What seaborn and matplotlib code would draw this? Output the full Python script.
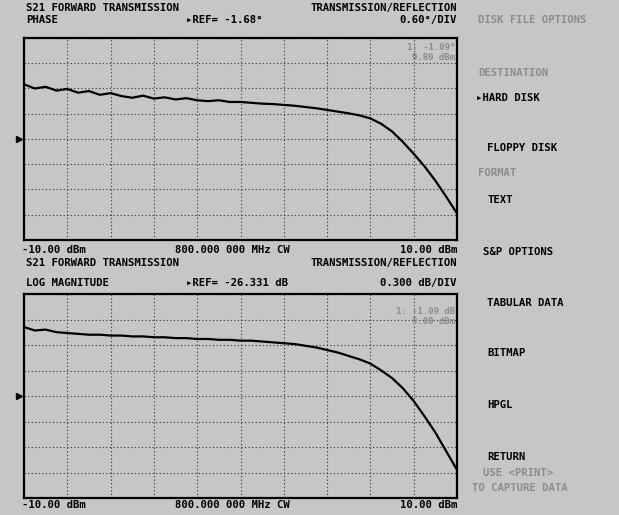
import matplotlib
matplotlib.use("Agg")
import matplotlib.pyplot as plt
import seaborn as sns
import pandas as pd

# 01- Trace data (power sweep at 800 MHz CW)
power_dbm = [-10.0, -9.5, -9.0, -8.5, -8.0, -7.5, -7.0, -6.5, -6.0, -5.5,
             -5.0, -4.5, -4.0, -3.5, -3.0, -2.5, -2.0, -1.5, -1.0, -0.5,
             0.0, 0.5, 1.0, 1.5, 2.0, 2.5, 3.0, 3.5, 4.0, 4.5,
             5.0, 5.5, 6.0, 6.5, 7.0, 7.5, 8.0, 8.5, 9.0, 9.5, 10.0]
phase_deg = [-0.38, -0.48, -0.44, -0.53, -0.49, -0.58, -0.54, -0.63, -0.59, -0.66,
             -0.70, -0.65, -0.72, -0.69, -0.74, -0.71, -0.76, -0.78, -0.76, -0.80,
             -0.80, -0.82, -0.84, -0.85, -0.87, -0.89, -0.92, -0.95, -0.99, -1.03,
             -1.07, -1.12, -1.19, -1.32, -1.50, -1.75, -2.03, -2.33, -2.67, -3.05, -3.45]
logmag_db = [-25.52, -25.56, -25.55, -25.58, -25.59, -25.60, -25.61, -25.61, -25.62, -25.62,
             -25.63, -25.63, -25.64, -25.64, -25.65, -25.65, -25.66, -25.66, -25.67, -25.67,
             -25.68, -25.68, -25.69, -25.70, -25.71, -25.72, -25.74, -25.76, -25.79, -25.82,
             -25.86, -25.90, -25.95, -26.03, -26.12, -26.24, -26.39, -26.57, -26.76, -26.98, -27.20]

phase_ref, phase_div = -1.68, 0.60
mag_ref, mag_div = -26.331, 0.300

headers_top = ["S21 FORWARD TRANSMISSION", "PHASE", "\u25b8REF= -1.68\u00b0",
               "TRANSMISSION/REFLECTION", "0.60\u00b0/DIV"]
headers_bot = ["S21 FORWARD TRANSMISSION", "LOG MAGNITUDE", "\u25b8REF= -26.331 dB",
               "TRANSMISSION/REFLECTION", "0.300 dB/DIV"]
footer = ["-10.00 dBm", "800.000 000 MHz CW", "10.00 dBm"]
readout_top = ["1: -1.09\u00b0", "9.80 dBm"]
readout_bot = ["1: -1.09 dB", "9.80 dBm"]
softkeys = ["DISK FILE OPTIONS", "DESTINATION", "\u25b8HARD DISK", "FLOPPY DISK",
            "FORMAT", "TEXT", "S&P OPTIONS", "TABULAR DATA", "BITMAP", "HPGL",
            "RETURN", "USE <PRINT>", "TO CAPTURE DATA"]

df = pd.DataFrame({"power": power_dbm, "phase": phase_deg, "mag": logmag_db})

# 02- Style
sns.set_theme(style="white")
bg = "#c6c6c6"
plt.rcParams["font.family"] = ["DejaVu Sans Mono", "DejaVu Sans"]
plt.rcParams["font.weight"] = "bold"

W, H = 619, 515
fig = plt.figure(figsize=(W / 100, H / 100), dpi=100, facecolor=bg)


def px_axes(x0, y0, x1, y1):
    return fig.add_axes([x0 / W, 1 - y1 / H, (x1 - x0) / W, (y1 - y0) / H])


def txt(x, y, s, ha="left", faint=False, size=7.7):
    fig.text(x / W, 1 - y / H, s, ha=ha, va="center", fontsize=size,
             fontweight="bold", color="#8c8c8c" if faint else "black")


def screen(ax, col, ref, div):
    sns.lineplot(data=df, x="power", y=col, ax=ax, color="black", lw=1.6)
    ax.set_facecolor(bg)
    ax.set_xlim(-10, 10)
    ax.set_ylim(ref - 4 * div, ref + 4 * div)
    ax.set_xticks([-10 + 2 * i for i in range(11)])
    ax.set_yticks([ref + div * k for k in range(-4, 5)])
    ax.grid(True, color="#303030", linestyle=(0, (1, 2.2)), lw=0.8)
    ax.tick_params(length=0, labelbottom=False, labelleft=False)
    ax.set_xlabel("")
    ax.set_ylabel("")
    for s in ax.spines.values():
        s.set_color("black")
        s.set_linewidth(1.6)
    # reference position marker
    ax.plot([-0.012], [0.5], transform=ax.transAxes, marker=">", ms=5,
            color="black", clip_on=False)


ax1 = px_axes(24, 38, 457, 240)
screen(ax1, "phase", phase_ref, phase_div)
ax2 = px_axes(24, 294, 457, 498)
screen(ax2, "mag", mag_ref, mag_div)

# 03- Screen annotations
for (y_a, y_b, hdr, ro) in [(8, 20, headers_top, readout_top), (263, 283, headers_bot, readout_bot)]:
    txt(26, y_a, hdr[0])
    txt(26, y_b, hdr[1])
    txt(186, y_b, hdr[2])
    txt(457, y_a, hdr[3], ha="right")
    txt(457, y_b, hdr[4], ha="right")
    txt(455, y_b + 28, ro[0], ha="right", faint=True, size=6.5)
    txt(455, y_b + 38, ro[1], ha="right", faint=True, size=6.5)

for y_f in [250, 505]:
    txt(22, y_f, footer[0])
    txt(175, y_f, footer[1])
    txt(457, y_f, footer[2], ha="right")

key_y = [20, 73, 98, 148, 173, 200, 252, 303, 353, 405, 457, 473, 488]
key_x = [478, 478, 476, 487, 478, 487, 483, 487, 487, 487, 487, 483, 472]
key_faint = [True, True, False, False, True, False, False, False, False, False, False, True, True]
for s, x, y, f in zip(softkeys, key_x, key_y, key_faint):
    txt(x, y, s, faint=f)

plt.savefig("out.png", dpi=100, facecolor=bg)
